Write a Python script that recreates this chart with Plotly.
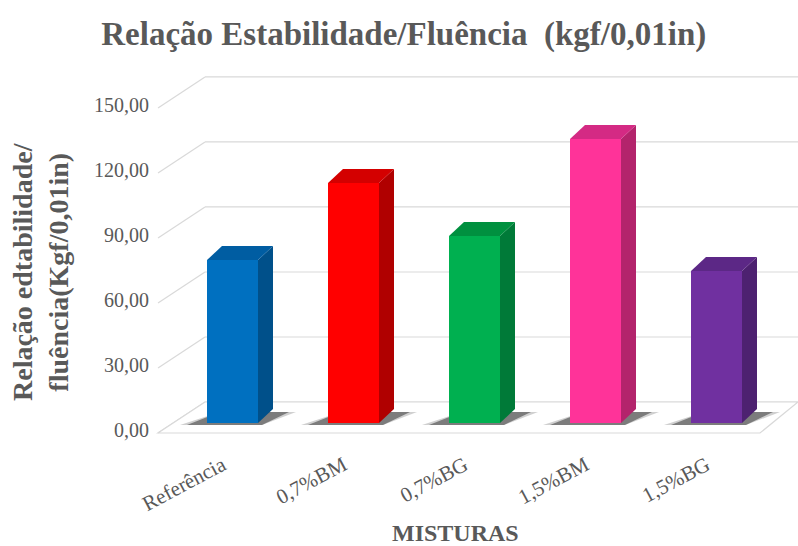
import plotly.graph_objects as go

# --- data -------------------------------------------------------------
categorias = ["Referência", "0,7%BM", "0,7%BG", "1,5%BM", "1,5%BG"]
valores = [75.2, 110.8, 86.3, 131.1, 70.1]
cor_frente = ["#0070C0", "#FF0000", "#00B050", "#FF3399", "#7030A0"]
cor_lado = ["#00508A", "#B00000", "#007A38", "#B3246C", "#4D2170"]
cor_topo = ["#005DA2", "#D40000", "#00903F", "#D42A84", "#5C2886"]
ticks_y = [0, 30, 60, 90, 120, 150]
rotulos_y = ["0,00", "30,00", "60,00", "90,00", "120,00", "150,00"]

# --- pseudo-3D geometry (pixel sizes converted to axis units) ---------
W, H = 798, 546
M_L, M_R, M_T, M_B = 150, 0, 60, 106
PX_CAT = 121.0          # pixels between category centres
PX_UNIT = 2.167         # pixels per value unit
CENTRO0 = 232.5         # pixel x of the first category
BASE_PX = 423.0         # pixel y of value 0 on the bar plane

def ux(px):
    return px / PX_CAT

def uy(px):
    return px / PX_UNIT

def xpix(px):
    return (px - CENTRO0) / PX_CAT

x_range = [xpix(M_L), xpix(W - M_R)]
y_range = [(BASE_PX - (H - M_B)) / PX_UNIT, (BASE_PX - M_T) / PX_UNIT]

LARG = ux(51)                       # bar width
PROF_X, PROF_Y = ux(15), uy(14)     # bar depth
FRENTE_Y = -uy(10)                  # front edge of floor / side wall
FUNDO_Y = uy(21)                    # back wall
ESQ_FRENTE, ESQ_FUNDO = xpix(158), xpix(205)
DIR_FRENTE, DIR_FUNDO = xpix(760), xpix(798)

GRADE = "#D9D9D9"
TEXTO = "#595959"
FONTE = "Liberation Serif"

shapes = []

# back wall gridlines + left wall diagonals
for t in ticks_y:
    shapes.append(dict(type="line", xref="x", yref="y", layer="below",
                       x0=ESQ_FUNDO, y0=t + FUNDO_Y, x1=DIR_FUNDO, y1=t + FUNDO_Y,
                       line=dict(color=GRADE, width=1.2)))
    shapes.append(dict(type="line", xref="x", yref="y", layer="below",
                       x0=ESQ_FRENTE, y0=t + FRENTE_Y, x1=ESQ_FUNDO, y1=t + FUNDO_Y,
                       line=dict(color=GRADE, width=1.2)))

# floor outline
shapes.append(dict(type="path", xref="x", yref="y", layer="below",
                   path=f"M {ESQ_FRENTE},{FRENTE_Y} L {DIR_FRENTE},{FRENTE_Y} "
                        f"L {DIR_FUNDO},{FUNDO_Y} L {ESQ_FUNDO},{FUNDO_Y} Z",
                   fillcolor="white", line=dict(color=GRADE, width=1.2)))

# bar shadows on the floor, then side and top faces
for i, v in enumerate(valores):
    xl, xr = i - LARG / 2, i + LARG / 2
    for alpha, grow in ((0.22, ux(7)), (0.5, 0)):
        shapes.append(dict(
            type="path", xref="x", yref="y", layer="below",
            path=(f"M {xl - ux(20) - grow},{-uy(2)} L {xr + ux(4)},{-uy(2)} "
                  f"L {xr + PROF_X + ux(16) + grow},{PROF_Y - uy(3)} "
                  f"L {xl + PROF_X - ux(2)},{PROF_Y - uy(3)} Z"),
            fillcolor=f"rgba(40,40,40,{alpha})", line=dict(width=0)))
    shapes.append(dict(
        type="path", xref="x", yref="y", layer="above",
        path=(f"M {xr},0 L {xr},{v} L {xr + PROF_X},{v + PROF_Y} "
              f"L {xr + PROF_X},{PROF_Y} Z"),
        fillcolor=cor_lado[i], line=dict(width=0)))
    shapes.append(dict(
        type="path", xref="x", yref="y", layer="above",
        path=(f"M {xl},{v} L {xr},{v} L {xr + PROF_X},{v + PROF_Y} "
              f"L {xl + PROF_X},{v + PROF_Y} Z"),
        fillcolor=cor_topo[i], line=dict(width=0)))

fig = go.Figure(go.Bar(
    x=list(range(len(categorias))), y=valores, width=LARG,
    marker=dict(color=cor_frente, line=dict(width=0)),
    hovertemplate="%{customdata}: %{y:.2f}<extra></extra>",
    customdata=categorias,
))

fig.update_layout(
    width=W, height=H,
    margin=dict(l=M_L, r=M_R, t=M_T, b=M_B),
    paper_bgcolor="white", plot_bgcolor="white",
    showlegend=False,
    shapes=shapes,
    title=dict(text="<b>Relação Estabilidade/Fluência  (kgf/0,01in)</b>",
               x=0.506, xref="container", xanchor="center",
               y=1 - 33 / H, yref="container", yanchor="middle",
               font=dict(family=FONTE, size=33, color=TEXTO)),
    xaxis=dict(range=x_range, tickmode="array",
               tickvals=list(range(len(categorias))), ticktext=categorias,
               tickangle=-28, ticklabelshift=-10, ticklabelstandoff=8,
               showgrid=False, zeroline=False, showline=False,
               ticks="", tickfont=dict(family=FONTE, size=21, color=TEXTO)),
    yaxis=dict(range=y_range, tickmode="array",
               tickvals=[t + FRENTE_Y + uy(3) for t in ticks_y], ticktext=rotulos_y,
               showgrid=False, zeroline=False, showline=False, ticks="",
               tickfont=dict(family=FONTE, size=20, color=TEXTO)),
    annotations=[
        dict(text="<b>MISTURAS</b>", xref="paper", yref="paper",
             x=(455 - M_L) / (W - M_L - M_R), y=((H - M_B) - 533) / (H - M_T - M_B),
             xanchor="center", yanchor="middle", showarrow=False,
             font=dict(family=FONTE, size=24, color=TEXTO)),
        dict(text="<b>Relação edtabilidade/<br>fluência(Kgf/0,01in)</b>",
             xref="paper", yref="paper", textangle=-90,
             x=(40 - M_L) / (W - M_L - M_R), y=((H - M_B) - 272) / (H - M_T - M_B),
             xanchor="center", yanchor="middle", showarrow=False,
             font=dict(family=FONTE, size=28, color=TEXTO)),
    ],
)

fig.write_html("out.html")
